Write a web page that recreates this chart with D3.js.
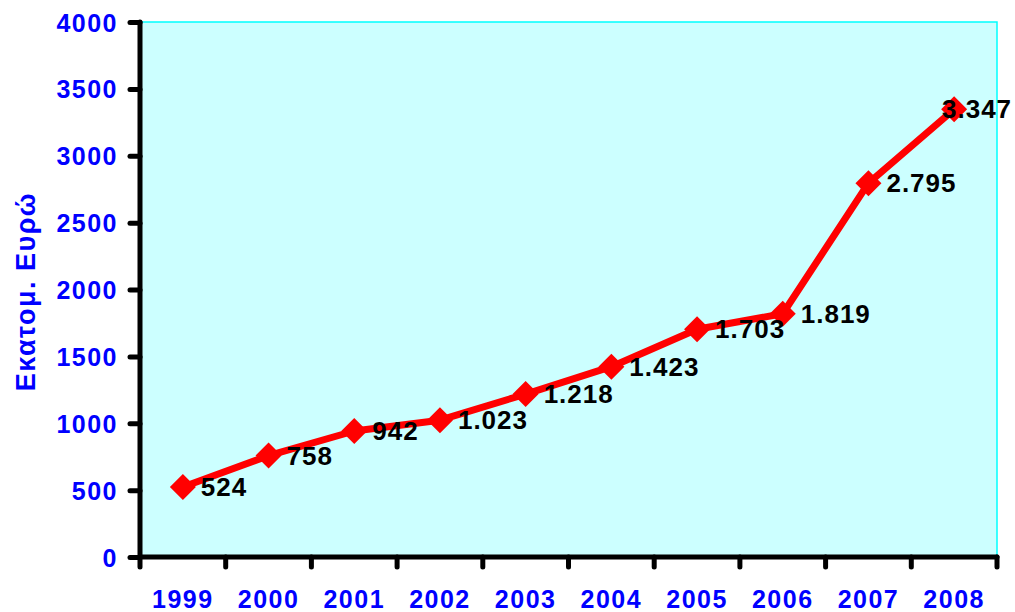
<!DOCTYPE html>
<html>
<head>
<meta charset="utf-8">
<script src="https://cdn.jsdelivr.net/npm/d3@7"></script>
<style>
  body { margin: 0; background: #fff; }
  svg { display: block; font-family: "Liberation Sans", Arial, sans-serif; font-weight: bold; }
</style>
</head>
<body>
<div id="chart"></div>
<script>
// data
const years = ["1999", "2000", "2001", "2002", "2003", "2004", "2005", "2006", "2007", "2008"];
const values = [524, 758, 942, 1023, 1218, 1423, 1703, 1819, 2795, 3347];
const yTicks = [0, 500, 1000, 1500, 2000, 2500, 3000, 3500, 4000];
const yTitle = "Εκατομ. Ευρώ";

const width = 1015, height = 612;
const margin = {top: 22, right: 18, bottom: 55, left: 140};
const innerW = width - margin.left - margin.right;
const innerH = height - margin.top - margin.bottom;

const grLocale = d3.formatLocale({decimal: ",", thousands: ".", grouping: [3], currency: ["", "€"]});
const fmt = grLocale.format(",d");

const svg = d3.select("#chart").append("svg")
    .attr("width", width)
    .attr("height", height);

const g = svg.append("g")
    .attr("transform", `translate(${margin.left},${margin.top})`);

const x = d3.scaleBand().domain(years).range([0, innerW]).padding(0);
const y = d3.scaleLinear().domain([0, 4000]).range([innerH, 0]);

// plot area
g.append("rect")
    .attr("width", innerW)
    .attr("height", innerH)
    .attr("fill", "#ccffff")
    .attr("stroke", "#00ffff")
    .attr("stroke-width", 1.5);

// y axis
const yAxis = g.append("g").call(d3.axisLeft(y).tickValues(yTicks).tickSize(10).tickFormat(d3.format("d")));
yAxis.select(".domain").attr("stroke", "#000").attr("stroke-width", 5).attr("stroke-linecap", "round")
    .attr("d", `M0,${innerH}V0`);
yAxis.selectAll(".tick line").attr("stroke", "#000").attr("stroke-width", 5).attr("stroke-linecap", "round");
yAxis.selectAll(".tick text")
    .attr("x", -22)
    .attr("dy", "0.36em")
    .attr("fill", "#0000ff")
    .style("font-size", "25px")
    .style("letter-spacing", "1.5px")
    .style("font-weight", "bold")
    .style("font-family", "'Liberation Sans', Arial, sans-serif");

// x axis (ticks at category boundaries)
const xAxisG = g.append("g").attr("transform", `translate(0,${innerH})`);
xAxisG.append("line")
    .attr("x1", 0).attr("x2", innerW)
    .attr("stroke", "#000").attr("stroke-width", 5).attr("stroke-linecap", "round");
const bounds = years.map(d => x(d)).concat([innerW]);
xAxisG.selectAll("line.tk")
    .data(bounds)
    .join("line")
        .attr("class", "tk")
        .attr("x1", d => d).attr("x2", d => d)
        .attr("y1", 0).attr("y2", 10)
        .attr("stroke", "#000").attr("stroke-width", 5).attr("stroke-linecap", "round");
xAxisG.selectAll("text")
    .data(years)
    .join("text")
        .attr("x", d => x(d) + x.bandwidth() / 2)
        .attr("y", 51)
        .attr("text-anchor", "middle")
        .attr("fill", "#0000ff")
        .style("font-size", "25px")
        .style("letter-spacing", "1.5px")
        .text(d => d);

// y title
svg.append("text")
    .attr("transform", `translate(35,${margin.top + innerH / 2 + 2}) rotate(-90)`)
    .attr("text-anchor", "middle")
    .attr("fill", "#0000ff")
    .style("font-size", "27px")
    .style("letter-spacing", "1.5px")
    .text(yTitle);

// line
const pts = years.map((d, i) => ({year: d, value: values[i]}));
const px = d => x(d.year) + x.bandwidth() / 2;

g.append("path")
    .datum(pts)
    .attr("fill", "none")
    .attr("stroke", "#ff0000")
    .attr("stroke-width", 7)
    .attr("stroke-linejoin", "round")
    .attr("d", d3.line().x(px).y(d => y(d.value)));

g.selectAll("path.marker")
    .data(pts)
    .join("path")
        .attr("class", "marker")
        .attr("transform", d => `translate(${px(d)},${y(d.value)})`)
        .attr("d", "M0,-13L13,0L0,13L-13,0Z")
        .attr("fill", "#ff0000");

// data labels
g.selectAll("text.lbl")
    .data(pts)
    .join("text")
        .attr("class", "lbl")
        .attr("x", d => Math.min(px(d) + 18, width - margin.left - 73))
        .attr("y", d => y(d.value) + 9)
        .attr("fill", "#000")
        .style("font-size", "26px")
        .style("letter-spacing", "1px")
        .text(d => fmt(d.value));
</script>
</body>
</html>
